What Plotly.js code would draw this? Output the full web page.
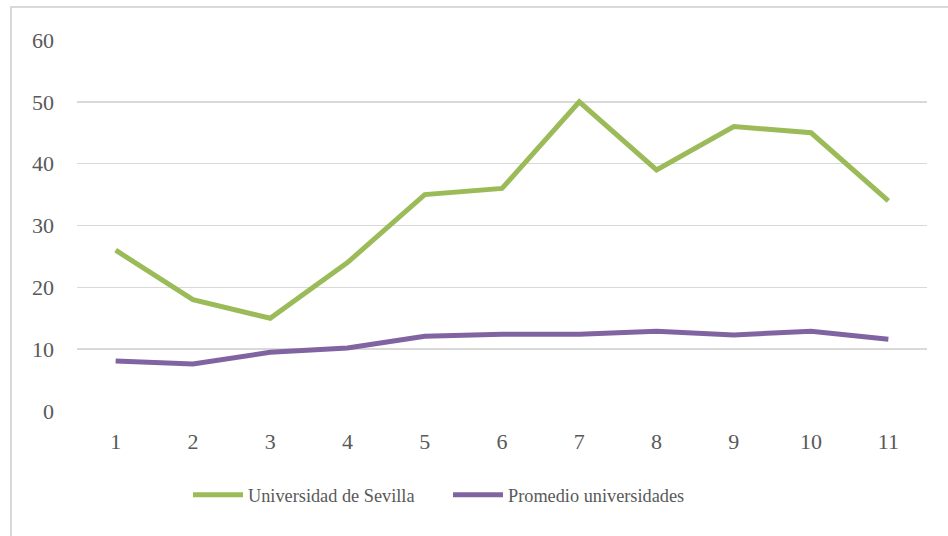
<!DOCTYPE html>
<html>
<head>
<meta charset="utf-8">
<script src="https://cdn.plot.ly/plotly-3.0.1.min.js"></script>
<style>
    body { margin: 0; background: #fff; }
    #frame {
        position: absolute; left: 10px; top: 6px; width: 960px; height: 560px;
        border-left: 2px solid #d9d9d9; border-top: 2px solid #d9d9d9;
        pointer-events: none;
    }
    #chart { width: 948px; height: 536px; }
</style>
</head>
<body>
<div id="chart"></div>
<div id="frame"></div>
<script>
// Values
var periods = ['1', '2', '3', '4', '5', '6', '7', '8', '9', '10', '11'];
var sevilla = [26, 18, 15, 24, 35, 36, 50, 39, 46, 45, 34];
var promedio = [8.1, 7.6, 9.5, 10.2, 12.1, 12.4, 12.4, 12.9, 12.3, 12.9, 11.6];
var yTicks = [0, 10, 20, 30, 40, 50, 60];

var fontFamily = 'Liberation Serif';

var traceSevilla = {
    x: periods,
    y: sevilla,
    name: 'Universidad de Sevilla',
    type: 'scatter',
    mode: 'lines',
    line: { color: '#9bbb59', width: 5 }
};

var tracePromedio = {
    x: periods,
    y: promedio,
    name: 'Promedio universidades',
    type: 'scatter',
    mode: 'lines',
    line: { color: '#8064a2', width: 5 }
};

var layout = {
    width: 948,
    height: 536,
    margin: { l: 77, r: 21, t: 40, b: 125 },
    paper_bgcolor: '#ffffff',
    plot_bgcolor: '#ffffff',
    font: { family: fontFamily, size: 22, color: '#595959' },
    showlegend: true,
    legend: {
        orientation: 'h',
        x: (188 - 77) / 850,
        xanchor: 'left',
        y: -0.226,
        yanchor: 'middle',
        itemwidth: 50,
        entrywidth: 195,
        entrywidthmode: 'pixels',
        font: { family: fontFamily, size: 18.3, color: '#595959' },
        traceorder: 'normal'
    },
    xaxis: {
        type: 'category',
        range: [-0.5, 10.5],
        showgrid: false,
        zeroline: false,
        showline: false,
        ticks: '',
        ticklabelstandoff: 15
    },
    yaxis: {
        range: [0, 60],
        tickvals: yTicks,
        showgrid: true,
        gridcolor: '#d9d9d9',
        gridwidth: 1.5,
        zeroline: false,
        showline: false,
        ticks: '',
        ticklabelstandoff: 22
    }
};

Plotly.newPlot('chart', [traceSevilla, tracePromedio], layout, { displayModeBar: false, staticPlot: true });
</script>
</body>
</html>
